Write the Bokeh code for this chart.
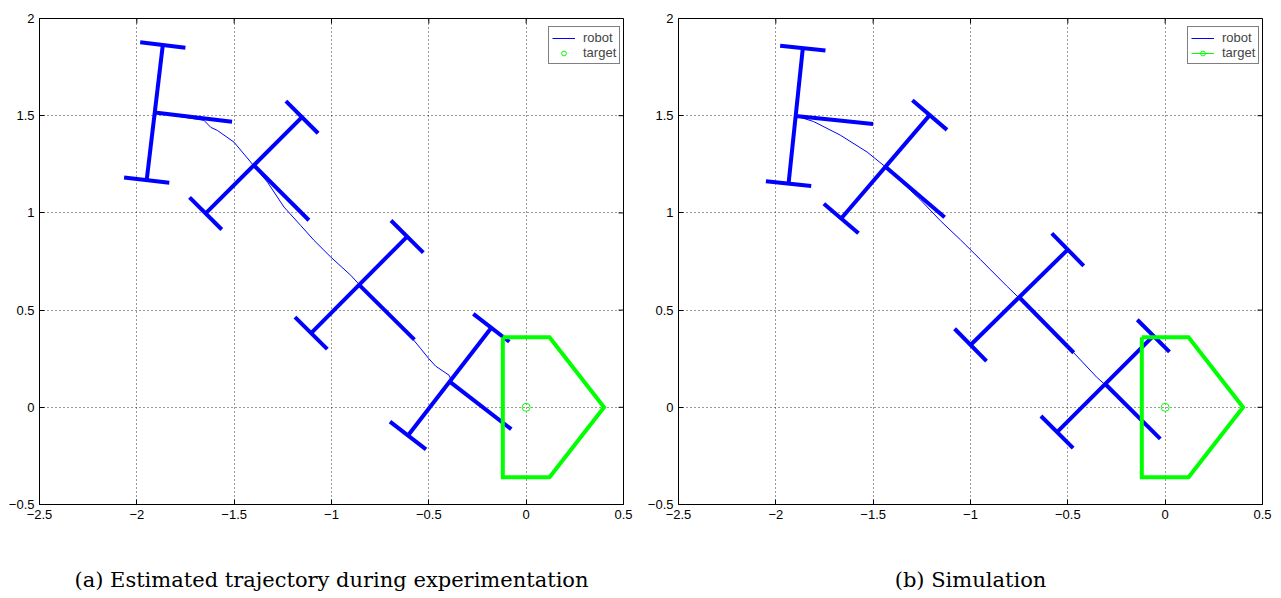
import numpy as np
from bokeh.plotting import figure
from bokeh.models import (FixedTicker, Range1d, Legend, LegendItem, Title)
from bokeh.layouts import row
from bokeh.embed import file_html
from bokeh.resources import INLINE

# ---------------- data ----------------
x_ticks = [-2.5, -2.0, -1.5, -1.0, -0.5, 0.0, 0.5]
x_tick_labels = ["\u22122.5", "\u22122", "\u22121.5", "\u22121", "\u22120.5", "0", "0.5"]
y_ticks = [-0.5, 0.0, 0.5, 1.0, 1.5, 2.0]
y_tick_labels = ["\u22120.5", "0", "0.5", "1", "1.5", "2"]

# (a) estimated trajectory during experimentation
exp_traj_x = [-1.908, -1.655, -1.620, -1.586, -1.501, -1.398, -1.329, -1.244, -1.158, -1.090,
              -1.004, -0.901, -0.858, -0.584, -0.541, -0.500, -0.464, -0.396, -0.378]
exp_traj_y = [1.516, 1.476, 1.440, 1.424, 1.364, 1.241, 1.158, 1.030, 0.935, 0.859,
              0.773, 0.679, 0.632, 0.353, 0.301, 0.250, 0.211, 0.165, 0.122]
exp_pose_x = [-1.908, -1.399, -0.858, -0.393]
exp_pose_y = [1.516, 1.245, 0.630, 0.132]
exp_pose_theta = [-6.8, -45.0, -44.8, -37.7]   # degrees

# (b) simulation
sim_traj_x = [-1.898, -1.806, -1.669, -1.531, -1.437, -1.258, -1.155, -1.052, -0.949,
              -0.812, -0.748, -0.469, -0.349, -0.310]
sim_traj_y = [1.499, 1.470, 1.400, 1.313, 1.237, 1.068, 0.960, 0.862, 0.760,
              0.622, 0.560, 0.280, 0.152, 0.118]
sim_pose_x = [-1.898, -1.437, -0.750, -0.308]
sim_pose_y = [1.499, 1.237, 0.566, 0.120]
sim_pose_theta = [-6.0, -40.5, -45.5, -45.0]

# target and docking zone
target_x = [0.0]
target_y = [0.0]
zone_x = [-0.12, 0.12, 0.40, 0.12, -0.12, -0.12]
zone_y = [0.36, 0.36, 0.0, -0.36, -0.36, 0.36]

# robot drawing dimensions (data units)
HALF_AXLE = 0.35
WHEEL_HALF = 0.117
STEM = 0.40

X0, X1, Y0, Y1 = -2.5, 0.5, -0.5, 2.0
FRAME_W, FRAME_H = 584, 486
TICK_PX = 5

BLUE = "#0000ff"
GREEN = "#00ff00"
SANS = "Liberation Sans"
SERIF = "DejaVu Serif"


def robot_segments(px, py, pth):
    xs, ys = [], []
    for x, y, t in zip(px, py, pth):
        a = np.radians(t)
        hx, hy = np.cos(a), np.sin(a)        # heading
        nx, ny = -np.sin(a), np.cos(a)       # axle direction
        e1 = (x + HALF_AXLE * nx, y + HALF_AXLE * ny)
        e2 = (x - HALF_AXLE * nx, y - HALF_AXLE * ny)
        xs.append([e1[0], e2[0]]); ys.append([e1[1], e2[1]])
        for ex, ey in (e1, e2):
            xs.append([ex - WHEEL_HALF * hx, ex + WHEEL_HALF * hx])
            ys.append([ey - WHEEL_HALF * hy, ey + WHEEL_HALF * hy])
        xs.append([x, x + STEM * hx]); ys.append([y, y + STEM * hy])
    return xs, ys


def style_axis(ax):
    ax.axis_line_color = "black"
    ax.axis_line_width = 1
    ax.major_tick_in = TICK_PX
    ax.major_tick_out = 0
    ax.minor_tick_in = 0
    ax.minor_tick_out = 0
    ax.major_tick_line_color = "black"
    ax.major_label_text_font = SANS
    ax.major_label_text_font_size = "13px"
    ax.major_label_text_color = "black"


def make_panel(traj_x, traj_y, px, py, pth, target_with_line, caption, right_border):
    p = figure(frame_width=FRAME_W, frame_height=FRAME_H,
               x_range=Range1d(X0, X1), y_range=Range1d(Y0, Y1),
               output_backend="svg", toolbar_location=None,
               min_border_left=39, min_border_right=right_border,
               min_border_top=18, min_border_bottom=90,
               outline_line_color="black", outline_line_width=1,
               background_fill_color="white", border_fill_color="white")

    xt = FixedTicker(ticks=x_ticks)
    yt = FixedTicker(ticks=y_ticks)
    p.xaxis.ticker = xt
    p.yaxis.ticker = yt
    p.xaxis.major_label_overrides = dict(zip(x_ticks, x_tick_labels))
    p.yaxis.major_label_overrides = dict(zip(y_ticks, y_tick_labels))
    style_axis(p.xaxis[0])
    style_axis(p.yaxis[0])
    p.xaxis.major_label_standoff = 5
    p.yaxis.major_label_standoff = 5

    for g in (p.xgrid[0], p.ygrid[0]):
        g.grid_line_color = "#333333"
        g.grid_line_dash = "1 3"
        g.grid_line_width = 1
    p.xgrid.ticker = xt
    p.ygrid.ticker = yt

    # inward ticks on the top and right edges of the box
    dx = (X1 - X0) / FRAME_W * TICK_PX
    dy = (Y1 - Y0) / FRAME_H * TICK_PX
    p.segment(x0=x_ticks, y0=[Y1] * len(x_ticks), x1=x_ticks, y1=[Y1 - dy] * len(x_ticks),
              line_color="black", line_width=1)
    p.segment(x0=[X1] * len(y_ticks), y0=y_ticks, x1=[X1 - dx] * len(y_ticks), y1=y_ticks,
              line_color="black", line_width=1)

    # robots
    rx, ry = robot_segments(px, py, pth)
    p.multi_line(rx, ry, line_color=BLUE, line_width=4)
    # trajectory
    traj = p.line(traj_x, traj_y, line_color=BLUE, line_width=1)
    # docking zone
    p.line(zone_x, zone_y, line_color=GREEN, line_width=4, line_join="miter")
    # target
    tline = p.line(target_x, target_y, line_color=GREEN, line_width=1)
    tcirc = p.scatter(target_x, target_y, marker="circle", size=8, line_color=GREEN,
                      fill_color=None, line_width=1)

    trg = [tline, tcirc] if target_with_line else [tcirc]
    legend = Legend(items=[LegendItem(label="robot", renderers=[traj]),
                           LegendItem(label="target", renderers=trg)],
                    location=(509, 440))
    legend.border_line_color = "black"
    legend.border_line_width = 1
    legend.background_fill_color = "white"
    legend.background_fill_alpha = 1
    legend.label_text_font = SANS
    legend.label_text_font_size = "13px"
    legend.glyph_width = 23
    legend.glyph_height = 12
    legend.label_height = 12
    legend.spacing = 0
    legend.padding = 3
    legend.margin = 0
    legend.label_standoff = 8
    p.add_layout(legend)

    p.add_layout(Title(text=caption, align="center", text_font=SERIF,
                       text_font_size="21px", text_font_style="normal",
                       text_color="black", standoff=88), "below")
    return p


p1 = make_panel(exp_traj_x, exp_traj_y, exp_pose_x, exp_pose_y, exp_pose_theta, False,
                "(a) Estimated trajectory during experimentation", 16)
p2 = make_panel(sim_traj_x, sim_traj_y, sim_pose_x, sim_pose_y, sim_pose_theta, True,
                "(b) Simulation", 12)

layout = row(p1, p2)
open("out.html", "w").write(file_html(layout, INLINE))
